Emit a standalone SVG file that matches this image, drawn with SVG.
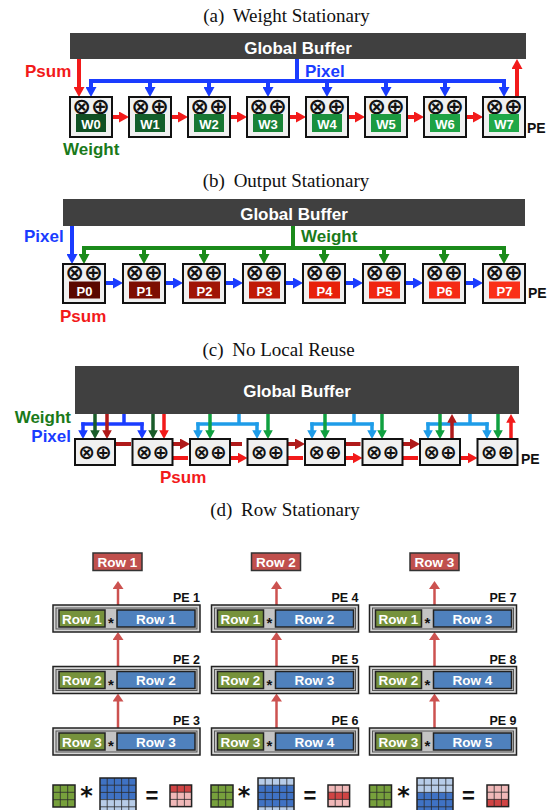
<svg xmlns="http://www.w3.org/2000/svg" width="555" height="810" viewBox="0 0 555 810">
<defs>
<style>
.title{font-family:"Liberation Serif","Times New Roman",serif;font-size:19px;fill:#111;text-anchor:middle}
.gbar{fill:#404040}
.gbt{font-family:"Liberation Sans",Arial,sans-serif;font-weight:bold;font-size:17px;fill:#fff;text-anchor:middle}
.lbl{font-family:"Liberation Sans",Arial,sans-serif;font-weight:bold;font-size:17px}
.cR{fill:#f21a1a}.cB{fill:#1a3cff}.cG{fill:#1a7a1a}
.pe{fill:#f0f0f0;stroke:#111;stroke-width:2}
.sym{font-family:"DejaVu Sans",sans-serif;font-weight:bold;font-size:22.5px;fill:#111;text-anchor:middle}
.sym2{font-family:"DejaVu Sans",sans-serif;font-weight:bold;font-size:20px;fill:#111;text-anchor:middle}
.id{font-family:"Liberation Sans",Arial,sans-serif;font-weight:bold;font-size:13px;fill:#fff;text-anchor:middle}
.tag{font-family:"Liberation Sans",Arial,sans-serif;font-weight:bold;font-size:14px;fill:#111}
.w4{fill:none;stroke-width:4}
.w3{fill:none;stroke-width:3.5}
.sR{stroke:#f21a1a}.sB{stroke:#1a3cff}.sG{stroke:#1a8a1a}.sDR{stroke:#b01a1a}.sDG{stroke:#1a5c2a}.sG2{stroke:#10a040}.sLB{stroke:#1e9ce8}
.sBR{fill:none;stroke:#cc5250;stroke-width:2.5}
.rso{fill:#d6d6d6;stroke:#222;stroke-width:1.5}
.rsi{fill:#c4c4c4;stroke:#555;stroke-width:1}
.rg{fill:#76923c;stroke:#222;stroke-width:1.5}
.rb{fill:#4f81bd;stroke:#222;stroke-width:1.5}
.rr{fill:#c0504d;stroke:#333;stroke-width:1.5}
.rt{font-family:"Liberation Sans",Arial,sans-serif;font-weight:bold;font-size:13.5px;fill:#fff;text-anchor:middle}
.pet{font-family:"Liberation Sans",Arial,sans-serif;font-weight:bold;font-size:12.5px;fill:#111;text-anchor:end}
.ast{font-family:"Liberation Sans",Arial,sans-serif;font-weight:bold;font-size:15px;fill:#111;text-anchor:middle}
.big{font-family:"DejaVu Sans",sans-serif;font-weight:bold;font-size:24px;fill:#111;text-anchor:middle}
.eq{font-family:"Liberation Sans",Arial,sans-serif;font-weight:bold;font-size:22px;fill:#111;text-anchor:middle}
.grid{fill:none;stroke:#2b2b2b;stroke-width:0.8}
.frame{fill:none;stroke:#222;stroke-width:1.5}
</style>
<marker id="mR" viewBox="0 0 10 11" refX="4" refY="5.5" markerWidth="2.5" markerHeight="2.75" orient="auto"><path d="M0,0L10,5.5L0,11z" fill="#f21a1a"/></marker>
<marker id="mB" viewBox="0 0 10 11" refX="4" refY="5.5" markerWidth="2.5" markerHeight="2.75" orient="auto"><path d="M0,0L10,5.5L0,11z" fill="#1a3cff"/></marker>
<marker id="mG" viewBox="0 0 10 11" refX="4" refY="5.5" markerWidth="2.5" markerHeight="2.75" orient="auto"><path d="M0,0L10,5.5L0,11z" fill="#1a8a1a"/></marker>
<marker id="mDR" viewBox="0 0 10 11" refX="4" refY="5.5" markerWidth="2.5" markerHeight="2.75" orient="auto"><path d="M0,0L10,5.5L0,11z" fill="#b01a1a"/></marker>
<marker id="mDG" viewBox="0 0 10 11" refX="4" refY="5.5" markerWidth="2.5" markerHeight="2.75" orient="auto"><path d="M0,0L10,5.5L0,11z" fill="#1a5c2a"/></marker>
<marker id="mG2" viewBox="0 0 10 11" refX="4" refY="5.5" markerWidth="2.5" markerHeight="2.75" orient="auto"><path d="M0,0L10,5.5L0,11z" fill="#10a040"/></marker>
<marker id="mLB" viewBox="0 0 10 11" refX="4" refY="5.5" markerWidth="2.5" markerHeight="2.75" orient="auto"><path d="M0,0L10,5.5L0,11z" fill="#1e9ce8"/></marker>
<marker id="mBR" viewBox="0 0 8 11" refX="3" refY="5.5" markerWidth="3.2" markerHeight="4.4" orient="auto"><path d="M0,0L8,5.5L0,11z" fill="#cc5250"/></marker>
</defs>
<rect width="555" height="810" fill="#fff"/>

<!-- titles -->
<text class="title" x="286.5" y="22">(a)<tspan dx="4"> Weight Stationary</tspan></text>
<text class="title" x="286" y="187">(b)<tspan dx="4"> Output Stationary</tspan></text>
<text class="title" x="278.5" y="355.5">(c)<tspan dx="4"> No Local Reuse</tspan></text>
<text class="title" x="285" y="516">(d)<tspan dx="4"> Row Stationary</tspan></text>

<!-- connectors -->
<g id="connectors">
  <!-- (a) -->
  <line class="w4 sR" x1="79" y1="59" x2="79" y2="91" marker-end="url(#mR)"/>
  <line class="w4 sB" x1="297" y1="59" x2="297" y2="81"/>
  <line class="w4 sB" x1="89" y1="81" x2="506" y2="81"/>
  <line class="w4 sB" x1="91" y1="79" x2="91" y2="91" marker-end="url(#mB)"/>
  <line class="w4 sB" x1="150" y1="79" x2="150" y2="91" marker-end="url(#mB)"/>
  <line class="w4 sB" x1="209" y1="79" x2="209" y2="91" marker-end="url(#mB)"/>
  <line class="w4 sB" x1="268" y1="79" x2="268" y2="91" marker-end="url(#mB)"/>
  <line class="w4 sB" x1="327" y1="79" x2="327" y2="91" marker-end="url(#mB)"/>
  <line class="w4 sB" x1="386" y1="79" x2="386" y2="91" marker-end="url(#mB)"/>
  <line class="w4 sB" x1="445" y1="79" x2="445" y2="91" marker-end="url(#mB)"/>
  <line class="w4 sB" x1="504" y1="79" x2="504" y2="91" marker-end="url(#mB)"/>
  <line class="w4 sR" x1="112" y1="117" x2="123" y2="117" marker-end="url(#mR)"/>
  <line class="w4 sR" x1="171" y1="117" x2="182" y2="117" marker-end="url(#mR)"/>
  <line class="w4 sR" x1="230" y1="117" x2="241" y2="117" marker-end="url(#mR)"/>
  <line class="w4 sR" x1="289" y1="117" x2="300" y2="117" marker-end="url(#mR)"/>
  <line class="w4 sR" x1="348" y1="117" x2="359" y2="117" marker-end="url(#mR)"/>
  <line class="w4 sR" x1="407" y1="117" x2="418" y2="117" marker-end="url(#mR)"/>
  <line class="w4 sR" x1="466" y1="117" x2="477" y2="117" marker-end="url(#mR)"/>
  <line class="w4 sR" x1="517" y1="97" x2="517" y2="65" marker-end="url(#mR)"/>
  <!-- (b) -->
  <line class="w4 sB" x1="72" y1="226" x2="72" y2="258" marker-end="url(#mB)"/>
  <line class="w4 sG" x1="293" y1="226" x2="293" y2="248"/>
  <line class="w4 sG" x1="82" y1="248" x2="506" y2="248"/>
  <line class="w4 sG" x1="84" y1="246" x2="84" y2="258" marker-end="url(#mG)"/>
  <line class="w4 sG" x1="144" y1="246" x2="144" y2="258" marker-end="url(#mG)"/>
  <line class="w4 sG" x1="204" y1="246" x2="204" y2="258" marker-end="url(#mG)"/>
  <line class="w4 sG" x1="264" y1="246" x2="264" y2="258" marker-end="url(#mG)"/>
  <line class="w4 sG" x1="324" y1="246" x2="324" y2="258" marker-end="url(#mG)"/>
  <line class="w4 sG" x1="384" y1="246" x2="384" y2="258" marker-end="url(#mG)"/>
  <line class="w4 sG" x1="444" y1="246" x2="444" y2="258" marker-end="url(#mG)"/>
  <line class="w4 sG" x1="504" y1="246" x2="504" y2="258" marker-end="url(#mG)"/>
  <line class="w4 sB" x1="105" y1="283" x2="117" y2="283" marker-end="url(#mB)"/>
  <line class="w4 sB" x1="165" y1="283" x2="177" y2="283" marker-end="url(#mB)"/>
  <line class="w4 sB" x1="225" y1="283" x2="237" y2="283" marker-end="url(#mB)"/>
  <line class="w4 sB" x1="285" y1="283" x2="297" y2="283" marker-end="url(#mB)"/>
  <line class="w4 sB" x1="345" y1="283" x2="357" y2="283" marker-end="url(#mB)"/>
  <line class="w4 sB" x1="405" y1="283" x2="417" y2="283" marker-end="url(#mB)"/>
  <line class="w4 sB" x1="465" y1="283" x2="477" y2="283" marker-end="url(#mB)"/>
  <!-- (c) group 1 -->
  <line class="w3 sB" x1="124" y1="414" x2="124" y2="424"/>
  <line class="w3 sB" x1="81.3" y1="424" x2="143.7" y2="424"/>
  <line class="w3 sB" x1="83" y1="422.3" x2="83" y2="433.8" marker-end="url(#mB)"/>
  <line class="w3 sB" x1="142" y1="422.3" x2="142" y2="433.8" marker-end="url(#mB)"/>
  <line class="w3 sDG" x1="95" y1="414" x2="95" y2="433.8" marker-end="url(#mDG)"/>
  <line class="w3 sDG" x1="153" y1="414" x2="153" y2="433.8" marker-end="url(#mDG)"/>
  <line class="w3 sDR" x1="107" y1="414" x2="107" y2="433.8" marker-end="url(#mDR)"/>
  <line class="w3 sR" x1="164" y1="414" x2="164" y2="433.8" marker-end="url(#mR)"/>
  <!-- (c) group 2 -->
  <line class="w3 sLB" x1="239" y1="414" x2="239" y2="424"/>
  <line class="w3 sLB" x1="196.3" y1="424" x2="258.7" y2="424"/>
  <line class="w3 sLB" x1="198" y1="422.3" x2="198" y2="433.8" marker-end="url(#mLB)"/>
  <line class="w3 sLB" x1="257" y1="422.3" x2="257" y2="433.8" marker-end="url(#mLB)"/>
  <line class="w3 sG2" x1="210" y1="414" x2="210" y2="433.8" marker-end="url(#mG2)"/>
  <line class="w3 sG2" x1="268" y1="414" x2="268" y2="433.8" marker-end="url(#mG2)"/>
  <!-- (c) group 3 -->
  <line class="w3 sLB" x1="354" y1="414" x2="354" y2="424"/>
  <line class="w3 sLB" x1="310.3" y1="424" x2="373.7" y2="424"/>
  <line class="w3 sLB" x1="312" y1="422.3" x2="312" y2="433.8" marker-end="url(#mLB)"/>
  <line class="w3 sLB" x1="372" y1="422.3" x2="372" y2="433.8" marker-end="url(#mLB)"/>
  <line class="w3 sG2" x1="325" y1="414" x2="325" y2="433.8" marker-end="url(#mG2)"/>
  <line class="w3 sG2" x1="382" y1="414" x2="382" y2="433.8" marker-end="url(#mG2)"/>
  <!-- (c) group 4 -->
  <line class="w3 sLB" x1="470" y1="414" x2="470" y2="424"/>
  <line class="w3 sLB" x1="426.3" y1="424" x2="488.7" y2="424"/>
  <line class="w3 sLB" x1="428" y1="422.3" x2="428" y2="433.8" marker-end="url(#mLB)"/>
  <line class="w3 sLB" x1="487" y1="422.3" x2="487" y2="433.8" marker-end="url(#mLB)"/>
  <line class="w3 sG2" x1="440" y1="414" x2="440" y2="433.8" marker-end="url(#mG2)"/>
  <line class="w3 sG2" x1="498" y1="414" x2="498" y2="433.8" marker-end="url(#mG2)"/>
  <line class="w3 sDR" x1="452" y1="439" x2="452" y2="419.3" marker-end="url(#mDR)"/>
  <line class="w3 sR" x1="511" y1="439" x2="511" y2="419.3" marker-end="url(#mR)"/>
  <!-- (c) psum links -->
  <line class="w4 sDR" x1="115" y1="444" x2="131" y2="444"/>
  <line class="w4 sDR" x1="172.5" y1="444" x2="184" y2="444" marker-end="url(#mDR)"/>
  <line class="w4 sR" x1="172.5" y1="458" x2="188" y2="458"/>
  <line class="w4 sDR" x1="230" y1="444" x2="242" y2="444"/>
  <line class="w4 sR" x1="230" y1="458" x2="241.5" y2="458" marker-end="url(#mR)"/>
  <line class="w4 sDR" x1="287.5" y1="444" x2="299" y2="444" marker-end="url(#mDR)"/>
  <line class="w4 sR" x1="287.5" y1="458" x2="303" y2="458"/>
  <line class="w4 sDR" x1="345" y1="444" x2="360.5" y2="444"/>
  <line class="w4 sR" x1="345" y1="458" x2="356.5" y2="458" marker-end="url(#mR)"/>
  <line class="w4 sDR" x1="402.5" y1="444" x2="414" y2="444" marker-end="url(#mDR)"/>
  <line class="w4 sR" x1="402.5" y1="458" x2="418" y2="458"/>
  <line class="w4 sR" x1="460" y1="458" x2="471.5" y2="458" marker-end="url(#mR)"/>
  <!-- (d) -->
  <line class="sBR" x1="118" y1="605" x2="118" y2="586" marker-end="url(#mBR)"/>
  <line class="sBR" x1="118" y1="666.5" x2="118" y2="637" marker-end="url(#mBR)"/>
  <line class="sBR" x1="118" y1="728" x2="118" y2="698.5" marker-end="url(#mBR)"/>
  <line class="sBR" x1="276.5" y1="605" x2="276.5" y2="586" marker-end="url(#mBR)"/>
  <line class="sBR" x1="276.5" y1="666.5" x2="276.5" y2="637" marker-end="url(#mBR)"/>
  <line class="sBR" x1="276.5" y1="728" x2="276.5" y2="698.5" marker-end="url(#mBR)"/>
  <line class="sBR" x1="434.5" y1="605" x2="434.5" y2="586" marker-end="url(#mBR)"/>
  <line class="sBR" x1="434.5" y1="666.5" x2="434.5" y2="637" marker-end="url(#mBR)"/>
  <line class="sBR" x1="434.5" y1="728" x2="434.5" y2="698.5" marker-end="url(#mBR)"/>
</g>

<!-- (a) nodes -->
<g id="a-buffer"><rect class="gbar" x="70" y="33" width="456" height="26"/><text class="gbt" x="298" y="54">Global Buffer</text></g>
<g id="a-labels"><text class="lbl cR" x="25" y="77">Psum</text><text class="lbl cB" x="305" y="77">Pixel</text><text class="lbl cG" x="63" y="155">Weight</text><text class="tag" x="527" y="133">PE</text></g>
<g id="a-pe0"><rect class="pe" x="70" y="97" width="42" height="40"/><text class="sym" x="91" y="113.5">⊗⊕</text><rect x="76" y="114" width="30" height="18" fill="#0f4f22"/><text class="id" x="91" y="129">W0</text></g>
<g id="a-pe1"><rect class="pe" x="129" y="97" width="42" height="40"/><text class="sym" x="150" y="113.5">⊗⊕</text><rect x="135" y="114" width="30" height="18" fill="#125e2a"/><text class="id" x="150" y="129">W1</text></g>
<g id="a-pe2"><rect class="pe" x="188" y="97" width="42" height="40"/><text class="sym" x="209" y="113.5">⊗⊕</text><rect x="194" y="114" width="30" height="18" fill="#167632"/><text class="id" x="209" y="129">W2</text></g>
<g id="a-pe3"><rect class="pe" x="247" y="97" width="42" height="40"/><text class="sym" x="268" y="113.5">⊗⊕</text><rect x="253" y="114" width="30" height="18" fill="#188236"/><text class="id" x="268" y="129">W3</text></g>
<g id="a-pe4"><rect class="pe" x="306" y="97" width="42" height="40"/><text class="sym" x="327" y="113.5">⊗⊕</text><rect x="312" y="114" width="30" height="18" fill="#1a8f3c"/><text class="id" x="327" y="129">W4</text></g>
<g id="a-pe5"><rect class="pe" x="365" y="97" width="42" height="40"/><text class="sym" x="386" y="113.5">⊗⊕</text><rect x="371" y="114" width="30" height="18" fill="#1c9a40"/><text class="id" x="386" y="129">W5</text></g>
<g id="a-pe6"><rect class="pe" x="424" y="97" width="42" height="40"/><text class="sym" x="445" y="113.5">⊗⊕</text><rect x="430" y="114" width="30" height="18" fill="#1ea244"/><text class="id" x="445" y="129">W6</text></g>
<g id="a-pe7"><rect class="pe" x="483" y="97" width="42" height="40"/><text class="sym" x="504" y="113.5">⊗⊕</text><rect x="489" y="114" width="30" height="18" fill="#20a848"/><text class="id" x="504" y="129">W7</text></g>

<!-- (b) nodes -->
<g id="b-buffer"><rect class="gbar" x="63" y="199" width="462" height="27"/><text class="gbt" x="294" y="219.5">Global Buffer</text></g>
<g id="b-labels"><text class="lbl cB" x="24" y="242">Pixel</text><text class="lbl cG" x="301" y="242">Weight</text><text class="lbl cR" x="60" y="322">Psum</text><text class="tag" x="528" y="298">PE</text></g>
<g id="b-pe0"><rect class="pe" x="63" y="264" width="42" height="39"/><text class="sym" x="84" y="280">⊗⊕</text><rect x="69" y="281.5" width="31" height="17" fill="#5a0800"/><text class="id" x="84.5" y="295.5">P0</text></g>
<g id="b-pe1"><rect class="pe" x="123" y="264" width="42" height="39"/><text class="sym" x="144" y="280">⊗⊕</text><rect x="129" y="281.5" width="31" height="17" fill="#7d0e02"/><text class="id" x="144.5" y="295.5">P1</text></g>
<g id="b-pe2"><rect class="pe" x="183" y="264" width="42" height="39"/><text class="sym" x="204" y="280">⊗⊕</text><rect x="189" y="281.5" width="31" height="17" fill="#a01506"/><text class="id" x="204.5" y="295.5">P2</text></g>
<g id="b-pe3"><rect class="pe" x="243" y="264" width="42" height="39"/><text class="sym" x="264" y="280">⊗⊕</text><rect x="249" y="281.5" width="31" height="17" fill="#c01a06"/><text class="id" x="264.5" y="295.5">P3</text></g>
<g id="b-pe4"><rect class="pe" x="303" y="264" width="42" height="39"/><text class="sym" x="324" y="280">⊗⊕</text><rect x="309" y="281.5" width="31" height="17" fill="#e8200a"/><text class="id" x="324.5" y="295.5">P4</text></g>
<g id="b-pe5"><rect class="pe" x="363" y="264" width="42" height="39"/><text class="sym" x="384" y="280">⊗⊕</text><rect x="369" y="281.5" width="31" height="17" fill="#f02610"/><text class="id" x="384.5" y="295.5">P5</text></g>
<g id="b-pe6"><rect class="pe" x="423" y="264" width="42" height="39"/><text class="sym" x="444" y="280">⊗⊕</text><rect x="429" y="281.5" width="31" height="17" fill="#f52a14"/><text class="id" x="444.5" y="295.5">P6</text></g>
<g id="b-pe7"><rect class="pe" x="483" y="264" width="42" height="39"/><text class="sym" x="504" y="280">⊗⊕</text><rect x="489" y="281.5" width="31" height="17" fill="#fa3018"/><text class="id" x="504.5" y="295.5">P7</text></g>

<!-- (c) nodes -->
<g id="c-buffer"><rect class="gbar" x="75" y="366" width="444" height="48"/><text class="gbt" x="297" y="397">Global Buffer</text></g>
<g id="c-labels"><text class="lbl cG" x="71" y="423" text-anchor="end">Weight</text><text class="lbl cB" x="71" y="441.5" text-anchor="end">Pixel</text><text class="lbl cR" x="160" y="483">Psum</text><text class="tag" x="521" y="464">PE</text></g>
<g id="c-pe0"><rect class="pe" x="75" y="439" width="40" height="26"/><text class="sym2" x="95" y="459">⊗⊕</text></g>
<g id="c-pe1"><rect class="pe" x="132.5" y="439" width="40" height="26"/><text class="sym2" x="152.5" y="459">⊗⊕</text></g>
<g id="c-pe2"><rect class="pe" x="190" y="439" width="40" height="26"/><text class="sym2" x="210" y="459">⊗⊕</text></g>
<g id="c-pe3"><rect class="pe" x="247.5" y="439" width="40" height="26"/><text class="sym2" x="267.5" y="459">⊗⊕</text></g>
<g id="c-pe4"><rect class="pe" x="305" y="439" width="40" height="26"/><text class="sym2" x="325" y="459">⊗⊕</text></g>
<g id="c-pe5"><rect class="pe" x="362.5" y="439" width="40" height="26"/><text class="sym2" x="382.5" y="459">⊗⊕</text></g>
<g id="c-pe6"><rect class="pe" x="420" y="439" width="40" height="26"/><text class="sym2" x="440" y="459">⊗⊕</text></g>
<g id="c-pe7"><rect class="pe" x="477.5" y="439" width="40" height="26"/><text class="sym2" x="497.5" y="459">⊗⊕</text></g>

<!-- (d) outputs -->
<g id="d-out1"><rect class="rr" x="93" y="553" width="49" height="17.5"/><text class="rt" x="117.5" y="567">Row 1</text></g>
<g id="d-out2"><rect class="rr" x="251.5" y="553" width="49" height="17.5"/><text class="rt" x="276" y="567">Row 2</text></g>
<g id="d-out3"><rect class="rr" x="410" y="553" width="49" height="17.5"/><text class="rt" x="434.5" y="567">Row 3</text></g>

<!-- (d) PEs column 1 -->
<g id="d-pe1"><rect class="rso" x="53" y="605" width="147" height="27"/><rect class="rsi" x="56" y="608" width="141" height="21"/><rect class="rg" x="59" y="610" width="46" height="17"/><text class="rt" x="82" y="623.5">Row 1</text><text class="ast" x="111" y="628">*</text><rect class="rb" x="117" y="610" width="78" height="17"/><text class="rt" x="156" y="623.5">Row 1</text><text class="pet" x="200" y="602">PE 1</text></g>
<g id="d-pe2"><rect class="rso" x="53" y="666.5" width="147" height="27"/><rect class="rsi" x="56" y="669.5" width="141" height="21"/><rect class="rg" x="59" y="671.5" width="46" height="17"/><text class="rt" x="82" y="685">Row 2</text><text class="ast" x="111" y="689.5">*</text><rect class="rb" x="117" y="671.5" width="78" height="17"/><text class="rt" x="156" y="685">Row 2</text><text class="pet" x="200" y="663.5">PE 2</text></g>
<g id="d-pe3"><rect class="rso" x="53" y="728" width="147" height="27"/><rect class="rsi" x="56" y="731" width="141" height="21"/><rect class="rg" x="59" y="733" width="46" height="17"/><text class="rt" x="82" y="746.5">Row 3</text><text class="ast" x="111" y="751">*</text><rect class="rb" x="117" y="733" width="78" height="17"/><text class="rt" x="156" y="746.5">Row 3</text><text class="pet" x="200" y="725">PE 3</text></g>
<!-- column 2 -->
<g id="d-pe4"><rect class="rso" x="211.5" y="605" width="147" height="27"/><rect class="rsi" x="214.5" y="608" width="141" height="21"/><rect class="rg" x="217.5" y="610" width="46" height="17"/><text class="rt" x="240.5" y="623.5">Row 1</text><text class="ast" x="269.5" y="628">*</text><rect class="rb" x="275.5" y="610" width="78" height="17"/><text class="rt" x="314.5" y="623.5">Row 2</text><text class="pet" x="358.5" y="602">PE 4</text></g>
<g id="d-pe5"><rect class="rso" x="211.5" y="666.5" width="147" height="27"/><rect class="rsi" x="214.5" y="669.5" width="141" height="21"/><rect class="rg" x="217.5" y="671.5" width="46" height="17"/><text class="rt" x="240.5" y="685">Row 2</text><text class="ast" x="269.5" y="689.5">*</text><rect class="rb" x="275.5" y="671.5" width="78" height="17"/><text class="rt" x="314.5" y="685">Row 3</text><text class="pet" x="358.5" y="663.5">PE 5</text></g>
<g id="d-pe6"><rect class="rso" x="211.5" y="728" width="147" height="27"/><rect class="rsi" x="214.5" y="731" width="141" height="21"/><rect class="rg" x="217.5" y="733" width="46" height="17"/><text class="rt" x="240.5" y="746.5">Row 3</text><text class="ast" x="269.5" y="751">*</text><rect class="rb" x="275.5" y="733" width="78" height="17"/><text class="rt" x="314.5" y="746.5">Row 4</text><text class="pet" x="358.5" y="725">PE 6</text></g>
<!-- column 3 -->
<g id="d-pe7"><rect class="rso" x="369.5" y="605" width="147" height="27"/><rect class="rsi" x="372.5" y="608" width="141" height="21"/><rect class="rg" x="375.5" y="610" width="46" height="17"/><text class="rt" x="398.5" y="623.5">Row 1</text><text class="ast" x="427.5" y="628">*</text><rect class="rb" x="433.5" y="610" width="78" height="17"/><text class="rt" x="472.5" y="623.5">Row 3</text><text class="pet" x="516.5" y="602">PE 7</text></g>
<g id="d-pe8"><rect class="rso" x="369.5" y="666.5" width="147" height="27"/><rect class="rsi" x="372.5" y="669.5" width="141" height="21"/><rect class="rg" x="375.5" y="671.5" width="46" height="17"/><text class="rt" x="398.5" y="685">Row 2</text><text class="ast" x="427.5" y="689.5">*</text><rect class="rb" x="433.5" y="671.5" width="78" height="17"/><text class="rt" x="472.5" y="685">Row 4</text><text class="pet" x="516.5" y="663.5">PE 8</text></g>
<g id="d-pe9"><rect class="rso" x="369.5" y="728" width="147" height="27"/><rect class="rsi" x="372.5" y="731" width="141" height="21"/><rect class="rg" x="375.5" y="733" width="46" height="17"/><text class="rt" x="398.5" y="746.5">Row 3</text><text class="ast" x="427.5" y="751">*</text><rect class="rb" x="433.5" y="733" width="78" height="17"/><text class="rt" x="472.5" y="746.5">Row 5</text><text class="pet" x="516.5" y="725">PE 9</text></g>

<!-- (d) matrix legend -->
<g id="d-legend">
  <!-- set 1 -->
  <rect x="53" y="785" width="22" height="22" fill="#77a03c"/>
  <path class="grid" d="M60.3,785V807M67.7,785V807M53,792.3H75M53,799.7H75"/>
  <rect class="frame" x="53" y="785" width="22" height="22"/>
  <text class="big" x="86.5" y="804">*</text>
  <rect x="100" y="778" width="36" height="21.6" fill="#3f72c4"/>
  <rect x="100" y="799.6" width="36" height="14.4" fill="#b7cce8"/>
  <path class="grid" d="M107.2,778V814M114.4,778V814M121.6,778V814M128.8,778V814M100,785.2H136M100,792.4H136M100,799.6H136M100,806.8H136"/>
  <rect class="frame" x="100" y="778" width="36" height="36"/>
  <text class="eq" x="152" y="803">=</text>
  <rect x="170" y="785" width="21.6" height="21.6" fill="#f0b8b8"/>
  <rect x="170" y="785" width="21.6" height="7.2" fill="#d04444"/>
  <path class="grid" d="M177.2,785V806.6M184.4,785V806.6M170,792.2H191.6M170,799.4H191.6"/>
  <rect class="frame" x="170" y="785" width="21.6" height="21.6"/>
  <!-- set 2 -->
  <rect x="211" y="785" width="22" height="22" fill="#77a03c"/>
  <path class="grid" d="M218.3,785V807M225.7,785V807M211,792.3H233M211,799.7H233"/>
  <rect class="frame" x="211" y="785" width="22" height="22"/>
  <text class="big" x="244" y="804">*</text>
  <rect x="258" y="778" width="36" height="36" fill="#b7cce8"/>
  <rect x="258" y="785.2" width="36" height="21.6" fill="#3f72c4"/>
  <path class="grid" d="M265.2,778V814M272.4,778V814M279.6,778V814M286.8,778V814M258,785.2H294M258,792.4H294M258,799.6H294M258,806.8H294"/>
  <rect class="frame" x="258" y="778" width="36" height="36"/>
  <text class="eq" x="310" y="803">=</text>
  <rect x="328" y="785" width="21.6" height="21.6" fill="#f0b8b8"/>
  <rect x="328" y="792.2" width="21.6" height="7.2" fill="#d04444"/>
  <path class="grid" d="M335.2,785V806.6M342.4,785V806.6M328,792.2H349.6M328,799.4H349.6"/>
  <rect class="frame" x="328" y="785" width="21.6" height="21.6"/>
  <!-- set 3 -->
  <rect x="369.5" y="785" width="22" height="22" fill="#77a03c"/>
  <path class="grid" d="M376.8,785V807M384.2,785V807M369.5,792.3H391.5M369.5,799.7H391.5"/>
  <rect class="frame" x="369.5" y="785" width="22" height="22"/>
  <text class="big" x="403.5" y="804">*</text>
  <rect x="417" y="778" width="36" height="14.4" fill="#b7cce8"/>
  <rect x="417" y="792.4" width="36" height="21.6" fill="#3f72c4"/>
  <path class="grid" d="M424.2,778V814M431.4,778V814M438.6,778V814M445.8,778V814M417,785.2H453M417,792.4H453M417,799.6H453M417,806.8H453"/>
  <rect class="frame" x="417" y="778" width="36" height="36"/>
  <text class="eq" x="468.5" y="803">=</text>
  <rect x="487" y="785" width="21.6" height="21.6" fill="#f0b8b8"/>
  <rect x="487" y="799.4" width="21.6" height="7.2" fill="#d04444"/>
  <path class="grid" d="M494.2,785V806.6M501.4,785V806.6M487,792.2H508.6M487,799.4H508.6"/>
  <rect class="frame" x="487" y="785" width="21.6" height="21.6"/>
</g>
</svg>
